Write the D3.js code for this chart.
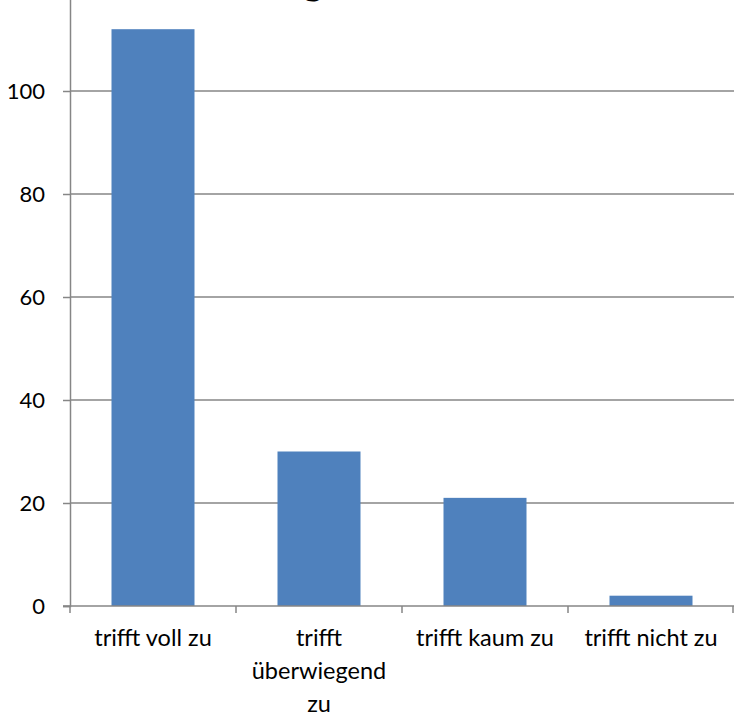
<!DOCTYPE html>
<html>
<head>
<meta charset="utf-8">
<script src="https://cdn.jsdelivr.net/npm/d3@7"></script>
<style>
  body { margin: 0; background: #fff; }
  svg { display: block; }
  text { font-family: Lato, "Open Sans", sans-serif; fill: #000; }
</style>
</head>
<body>
<div id="chart"></div>
<script>
// data
let categories = ["trifft voll zu", "trifft\nüberwiegend\nzu", "trifft kaum zu", "trifft nicht zu"];
let counts = [112, 30, 21, 2];
let yTicks = [0, 20, 40, 60, 80, 100];
let titleText = "g"; // only the bottom of the title shows in the crop

let width = 734, height = 717;
let margin = { left: 70, right: 0, bottom: 111 };
let axisColor = "#868686", barColor = "#4f81bd";

let svg = d3.select("#chart").append("svg")
  .attr("width", width)
  .attr("height", height);

let x = d3.scaleBand()
  .domain(categories)
  .range([margin.left, width - margin.right])
  .paddingInner(0.5)
  .paddingOuter(0.25);

let y = d3.scaleLinear()
  .domain([0, 120])
  .range([height - margin.bottom, height - margin.bottom - 6 * 103]);

// title (cut off at the top)
svg.append("text")
  .attr("x", 313)
  .attr("y", -6)
  .attr("text-anchor", "middle")
  .style("font-size", "40px")
  .style("font-weight", "bold")
  .text(titleText);

// gridlines
svg.append("g")
  .selectAll("line")
  .data(yTicks.filter(d => d > 0))
  .enter()
  .append("line")
  .attr("x1", margin.left)
  .attr("x2", width)
  .attr("y1", d => y(d))
  .attr("y2", d => y(d))
  .attr("stroke", axisColor)
  .attr("stroke-width", 1.5);

// bars
svg.append("g")
  .selectAll("rect")
  .data(counts)
  .enter()
  .append("rect")
  .attr("x", (d, i) => x(categories[i]))
  .attr("width", x.bandwidth())
  .attr("y", d => y(d))
  .attr("height", d => y(0) - y(d))
  .attr("fill", barColor);

// y axis
let yAxis = d3.axisLeft(y)
  .tickValues(yTicks)
  .tickSize(7)
  .tickPadding(18);
let gy = svg.append("g")
  .attr("transform", "translate(" + margin.left + ",0)")
  .call(yAxis);
gy.select(".domain").attr("stroke", axisColor).attr("stroke-width", 1.5);
gy.selectAll(".tick line").attr("stroke", axisColor).attr("stroke-width", 1.5);
gy.selectAll(".tick text")
  .style("font-size", "22px")
  .style("font-family", "Lato, sans-serif")
  .attr("fill", "#000");

// x axis: line plus ticks at category boundaries
let step = x.step();
let bounds = categories.map(c => x(c) - (step - x.bandwidth()) / 2);
bounds.push(bounds[bounds.length - 1] + step);
let gx = svg.append("g");
gx.append("line")
  .attr("x1", margin.left - 7)
  .attr("x2", width)
  .attr("y1", y(0))
  .attr("y2", y(0))
  .attr("stroke", axisColor)
  .attr("stroke-width", 1.5);
gx.selectAll(".xtick")
  .data(bounds)
  .enter()
  .append("line")
  .attr("class", "xtick")
  .attr("x1", d => Math.min(d, width - 1))
  .attr("x2", d => Math.min(d, width - 1))
  .attr("y1", y(0))
  .attr("y2", y(0) + 7)
  .attr("stroke", axisColor)
  .attr("stroke-width", 1.5);

let labels = gx.selectAll(".xlabel")
  .data(categories)
  .enter()
  .append("text")
  .attr("class", "xlabel")
  .attr("text-anchor", "middle")
  .style("font-size", "23.5px");
labels.each(function(d) {
  let t = d3.select(this);
  d.split("\n").forEach((line, i) => {
    t.append("tspan")
      .attr("x", x(d) + x.bandwidth() / 2)
      .attr("y", y(0) + 40 + i * 33)
      .text(line);
  });
});
</script>
</body>
</html>
